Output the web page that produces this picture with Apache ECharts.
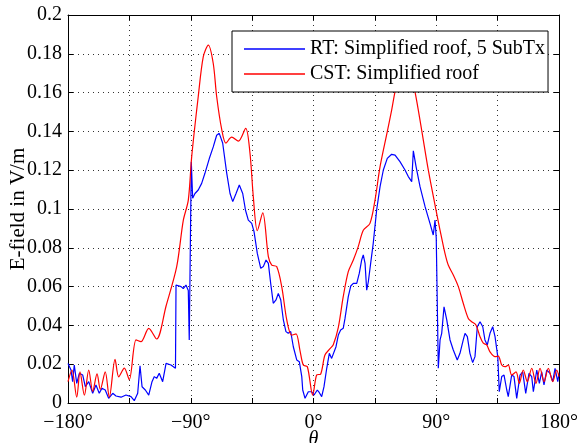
<!doctype html>
<html>
<head>
<meta charset="UTF-8">
<title>E-field</title>
<script src="https://cdn.jsdelivr.net/npm/echarts@6/dist/echarts.min.js"></script>
<style>
    html, body { margin: 0; padding: 0; background: #fff; }
    #main { width: 578px; height: 443px; }
</style>
</head>
<body>
<div id="main"></div>
<script>
    // RT: Simplified roof, 5 SubTx
    var rtTheta = [-180, -177.8, -176.6, -175.4, -173.6, -171.7, -169.2, -167.3, -164.8, -161.9,
        -159.5, -157.1, -155.1, -152.7, -150.2, -147.2, -144.8, -141.1, -137.5, -133.8,
        -131.4, -128.9, -127.2, -125.7, -123.3, -120.8, -118.4, -116.7, -115.0, -113.1,
        -110.6, -108.1, -104.5, -101.2, -100.8, -97.1, -95.5, -93.5, -91.8, -91.1,
        -89.6, -88.6, -86.9, -84.5, -82.0, -79.6, -76.4, -75.4, -73.5, -71.0,
        -69.1, -66.6, -63.6, -61.2, -59.2, -56.8, -54.4, -51.9, -49.9, -47.8,
        -45.3, -43.6, -41.2, -38.7, -36.8, -34.8, -33.1, -31.4, -29.5, -27.5,
        -25.8, -24.0, -22.1, -20.2, -18.5, -16.7, -14.8, -12.3, -10.4, -8.6,
        -7.9, -6.2, -3.8, -1.3, 0.4, 2.8, 4.3, 6.0, 7.7, 9.7,
        11.6, 13.3, 14.5, 16.5, 18.2, 19.9, 21.8, 23.1, 25.5, 27.3,
        29.2, 31.7, 33.6, 35.3, 36.5, 37.8, 39.0, 40.2, 41.9, 43.8,
        46.3, 48.8, 51.2, 54.1, 57.3, 59.8, 63.4, 67.1, 69.5, 72.0,
        73.2, 75.2, 78.1, 81.8, 85.4, 87.8, 89.1, 90.0, 91.5, 92.8,
        94.0, 95.7, 97.7, 100.1, 102.5, 103.8, 105.4, 107.4, 109.8, 111.1,
        112.8, 114.7, 116.7, 118.4, 120.1, 122.1, 124.1, 125.7, 127.4, 129.4,
        131.4, 133.1, 135.1, 136.2, 138.0, 139.7, 141.7, 142.8, 145.3, 147.0,
        149.0, 151.4, 153.4, 155.6, 158.0, 160.0, 161.2, 163.7, 165.6, 167.3,
        169.0, 171.0, 173.4, 175.4, 177.1, 179.1, 180];
    var rtValue = [0.0204, 0.017, 0.011, 0.0196, 0.0101, 0.0153, 0.0144, 0.0084, 0.011, 0.005,
        0.0093, 0.005, 0.0076, 0.0067, 0.0024, 0.005, 0.0036, 0.003, 0.0041, 0.0033,
        0.0012, 0.005, 0.0192, 0.0084, 0.0067, 0.0041, 0.011, 0.0136, 0.0127, 0.0153,
        0.011, 0.0204, 0.0196, 0.0179, 0.0608, 0.060, 0.059, 0.0608, 0.058, 0.0325,
        0.1244, 0.1055, 0.108, 0.1098, 0.1132, 0.1184, 0.126, 0.127, 0.132, 0.138,
        0.139, 0.134, 0.1184, 0.108, 0.1038, 0.108, 0.1124, 0.108, 0.0995, 0.0943,
        0.0926, 0.0883, 0.0771, 0.0694, 0.0703, 0.0737, 0.072, 0.0617, 0.0514, 0.0531,
        0.0565, 0.0531, 0.0428, 0.0368, 0.0359, 0.0368, 0.029, 0.0222, 0.0213, 0.0136,
        0.0067, 0.0024, 0.0058, 0.0058, 0.0041, 0.0067, 0.0053, 0.0033, 0.0084, 0.0179,
        0.0256, 0.023, 0.0239, 0.029, 0.035, 0.0376, 0.0385, 0.0436, 0.0548, 0.0603,
        0.0617, 0.0617, 0.0669, 0.0737, 0.0763, 0.072, 0.0582, 0.0625, 0.072, 0.0823,
        0.0995, 0.1115, 0.1201, 0.1261, 0.1282, 0.1278, 0.1244, 0.1201, 0.1167, 0.1141,
        0.130, 0.1218, 0.1115, 0.1012, 0.0926, 0.0866, 0.0943, 0.085, 0.0179, 0.0325,
        0.0359, 0.0496, 0.0428, 0.0325, 0.0273, 0.0264, 0.0222, 0.0256, 0.0325, 0.0359,
        0.0342, 0.0256, 0.0208, 0.0239, 0.0393, 0.0419, 0.0393, 0.0325, 0.0299, 0.0359,
        0.0393, 0.0342, 0.0239, 0.0058, 0.0136, 0.0144, 0.0067, 0.0033, 0.0144, 0.0136,
        0.0024, 0.0144, 0.016, 0.005, 0.0153, 0.0136, 0.0058, 0.017, 0.0101, 0.016,
        0.0093, 0.017, 0.0153, 0.011, 0.0179, 0.011, 0.0153];

    // CST: Simplified roof
    var cstTheta = [-180, -177.1, -173.6, -171.2, -168.0, -164.8, -161.9, -158.7, -156.3, -152.7,
        -149.7, -145.5, -142.8, -138.7, -135.1, -130.1, -126.5, -120.8, -115.0, -108.1,
        -100.3, -95.5, -91.8, -89.3, -84.5, -80.8, -77.1, -73.5, -71.0, -67.3,
        -64.2, -60.0, -55.1, -49.7, -46.6, -44.1, -41.2, -37.2, -33.1, -30.6,
        -27.0, -23.3, -19.6, -16.0, -12.8, -9.9, -7.5, -4.5, -0.6, 2.3,
        5.3, 8.4, 12.1, 14.5, 18.2, 21.8, 25.5, 29.2, 32.8, 36.5,
        41.4, 45.1, 48.8, 54.1, 57.3, 59.8, 63, 67, 71, 74.4,
        79.3, 84.2, 89.8, 92.8, 96.4, 98.8, 102.5, 106.2, 109.8, 113.5,
        116.0, 119.1, 122.1, 124.5, 127.0, 129.4, 133.1, 135.5, 138.0, 140.4,
        142.8, 145.3, 148.5, 150.9, 153.8, 156.8, 160.0, 163.1, 166.1, 169.0,
        172.2, 175.4, 178.3, 180];
    var cstValue = [0.011, 0.017, 0.003, 0.016, 0.004, 0.017, 0.006, 0.015, 0.007, 0.016,
        0.003, 0.0225, 0.0135, 0.018, 0.012, 0.0325, 0.0316, 0.0385, 0.033, 0.050,
        0.0703, 0.094, 0.1046, 0.127, 0.158, 0.1785, 0.1845, 0.175, 0.158, 0.141,
        0.134, 0.137, 0.135, 0.1416, 0.129, 0.106, 0.0888, 0.098, 0.0754, 0.0711,
        0.0703, 0.060, 0.0428, 0.035, 0.0356, 0.027, 0.0196, 0.0187, 0.0041, 0.0144,
        0.015, 0.0247, 0.028, 0.030, 0.039, 0.0548, 0.0677, 0.0737, 0.0806, 0.089,
        0.0926, 0.1046, 0.1218, 0.1399, 0.151, 0.1605, 0.169, 0.174, 0.170, 0.1605,
        0.1407, 0.120, 0.0995, 0.089, 0.0771, 0.0711, 0.066, 0.060, 0.0514, 0.0436,
        0.0419, 0.0402, 0.0342, 0.0308, 0.0299, 0.0264, 0.0239, 0.0242, 0.0196, 0.0187,
        0.0196, 0.0144, 0.016, 0.0101, 0.017, 0.011, 0.0179, 0.0101, 0.0179, 0.011,
        0.0179, 0.011, 0.017, 0.0136];

    var xTicks = [-180, -90, 0, 90, 180];   // beschriftete Winkel

    function pairs(xs, ys) {
        var out = [];
        for (var i = 0; i < xs.length; i++) out.push([xs[i], ys[i]]);
        return out;
    }

    var font = "'Liberation Serif', 'Times New Roman', serif";
    var gridLine = { show: true, lineStyle: { color: '#333', width: 1, type: [1, 4] } };
    var edge = { show: true, onZero: false, lineStyle: { color: '#000', width: 1 } };
    var tick = { show: true, inside: true, length: 5, lineStyle: { color: '#000' } };

    var myChart = echarts.init(document.getElementById('main'));
    var option = {
        animation: false,
        backgroundColor: '#fff',
        textStyle: { fontFamily: font },
        grid: { left: 68, right: 19, top: 15, bottom: 40, containLabel: false, outerBoundsMode: 'none' },
        legend: {
            orient: 'vertical',
            left: 232,
            top: 31,
            padding: [8, 3, 8, 12],
            icon: 'rect',
            itemWidth: 61,
            itemHeight: 1.3,
            itemGap: 5,
            itemTextGap: 7,
            backgroundColor: '#fff',
            borderColor: '#000',
            borderWidth: 1,
            textStyle: { fontFamily: font, fontSize: 20, lineHeight: 20, color: '#000' },
            data: ['RT: Simplified roof, 5 SubTx', 'CST: Simplified roof']
        },
        xAxis: [{
            type: 'value',
            min: -180, max: 180, interval: 45,
            name: 'θ',
            nameLocation: 'middle',
            nameGap: 27,
            nameMoveOverlap: false,
            nameTextStyle: { fontFamily: font, fontSize: 20, fontStyle: 'italic', color: '#000' },
            axisLine: edge,
            axisTick: tick,
            splitLine: gridLine,
            axisLabel: {
                color: '#000', fontFamily: font, fontSize: 20, margin: 10,
                formatter: function (v) {
                    if (xTicks.indexOf(v) < 0) return '';
                    return (v < 0 ? '\u2212' + Math.abs(v) : v) + '°';
                }
            }
        }, {
            type: 'value',
            position: 'top',
            min: -180, max: 180, interval: 45,
            axisLine: edge,
            axisTick: tick,
            axisLabel: { show: false },
            splitLine: { show: false }
        }],
        yAxis: [{
            type: 'value',
            min: 0, max: 0.2, interval: 0.02,
            name: 'E-field in V/m',
            nameLocation: 'middle',
            nameGap: 39,
            nameMoveOverlap: false,
            nameTextStyle: { fontFamily: font, fontSize: 21, color: '#000' },
            axisLine: edge,
            axisTick: tick,
            splitLine: gridLine,
            axisLabel: {
                color: '#000', fontFamily: font, fontSize: 20, margin: 6,
                formatter: function (v) { return String(+v.toFixed(2)); }
            }
        }, {
            type: 'value',
            position: 'right',
            min: 0, max: 0.2, interval: 0.02,
            axisLine: edge,
            axisTick: tick,
            axisLabel: { show: false },
            splitLine: { show: false }
        }],
        series: [{
            name: 'RT: Simplified roof, 5 SubTx',
            type: 'line',
            symbol: 'none',
            color: '#0000ff',
            lineStyle: { color: '#0000ff', width: 1.2 },
            data: pairs(rtTheta, rtValue)
        }, {
            name: 'CST: Simplified roof',
            type: 'line',
            symbol: 'none',
            smooth: 0.3,
            color: '#ff0000',
            lineStyle: { color: '#ff0000', width: 1.2 },
            data: pairs(cstTheta, cstValue)
        }]
    };
    myChart.setOption(option);
</script>
</body>
</html>
